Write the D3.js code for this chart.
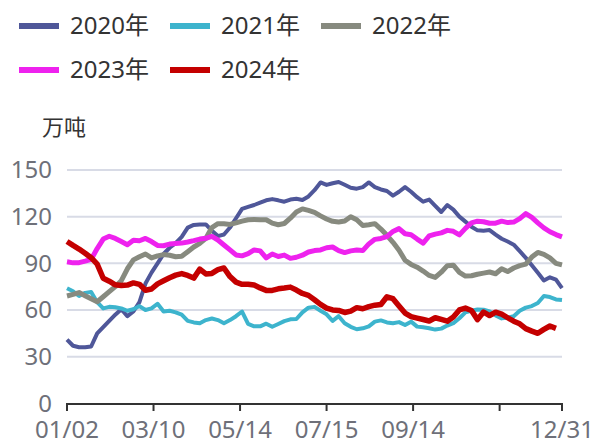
<!DOCTYPE html>
<html><head><meta charset="utf-8">
<script src="https://cdn.jsdelivr.net/npm/d3@7/dist/d3.min.js"></script>
<style>body{margin:0;background:#fff;}svg{display:block;font-family:"Noto Sans","Noto Sans CJK SC",sans-serif;}</style>
</head><body><svg id="c" width="592" height="442"></svg>
<script>
// trading-day index (every 3rd trading day of the year)
const dayIndex = d3.range(0, 247, 3);
const tickIndex = [0, 43, 86, 129, 172, 215, 246];
const tickLabels = ["01/02", "03/10", "05/14", "07/15", "09/14", "", "12/31"];
const yTicks = [0, 30, 60, 90, 120, 150];
const seriesNames = ["2020年", "2021年", "2022年", "2023年", "2024年"];
const seriesColors = ["#4f5799", "#3db4cd", "#878a7f", "#ee22ee", "#c40000"];

const v2020 = [41,37,36,36,36.5,45,49,53,57,60.5,56,59,65,77,84,90,96,100,103,107,113,114.7,115,115,111,107.5,108.5,113,119,125,126.3,127.5,129,130.5,131.3,130.5,129.6,131,131.5,130.7,133,137,142,140.4,141.5,142.3,140.5,138.6,138,139,142,139,137.5,136.5,133.5,136,139,136,132.5,129.6,131,127,123,127.5,124.5,120,116.8,113.5,111.2,110.9,111.4,108.5,105.8,104,102,97.8,93.5,88.8,84,79,81,79.5,74];
const v2021 = [74,72,69,71,71.5,65,61,62,61.8,61,59.5,60.5,62.5,60,61,64,59,59.5,58.5,57,53,52,51.5,53.5,54.5,53.5,51.5,53.5,56,59,51,49.5,49.5,51.2,49.2,51,52.8,54,54.2,58.5,61.5,62,59.5,57.2,53,56,51.5,49.2,47.6,48.2,49.5,52.5,53.3,52,51.5,52.2,50.3,52.5,49.3,48.9,48.3,47.4,48,50,51.5,54.7,58.5,59.5,60.3,60.2,59,56.5,54.6,55,56,59.5,61.5,62.5,64.5,69,68.3,66.8,66.4];
const v2022 = [69,70,71.2,69.2,67.2,65.3,68.5,71.8,75,78.8,86.5,92.2,94.2,96,93.5,94.8,95.6,95.2,94.2,94.5,97.5,100.5,102.8,106,113,115.5,115.4,115,116,117.1,118,118.2,118,118,115.8,114.8,115.6,119,123,125,124,122.8,120.5,118.5,117,116.6,117.2,120,118,114.3,114.8,115.5,112,108,103.5,98.4,92,89.3,87.5,85,82.2,80.9,84.3,88.5,88.8,84.2,81.8,82,83,83.7,84.4,83.3,86.5,84.7,87,88.5,89.5,94,97,95.8,93.5,90,89];
const v2023 = [91,90.3,90.4,91.4,92.5,99.5,105.6,107.4,106,104,102,104.9,104.5,106,104,101.5,101.3,102.4,102.7,103,103.7,104.6,105.6,106.1,107.3,105,101.8,98.6,95.4,94.8,96.2,98.6,98,93.5,96,94.4,95.3,93.2,93.9,95.2,97.3,98.2,98.6,100,100.5,98.2,96.9,98,98.5,98.2,102.5,105.4,106,107.2,110.5,112.3,109,108.4,105.6,103,107.6,108.8,109.6,111.2,110.6,108.3,112.5,116,117.1,116.7,115.8,115.8,117.1,116.2,116.5,118.7,122,119.5,116,112.8,110.3,108.5,107];
const v2024 = [104,101.5,99.2,96.5,93.6,89.5,80.4,78.5,76.2,75.7,76,77.4,76.5,72.7,73.5,76.8,78.8,80.7,82.4,83.4,82.2,80.5,86.3,83.2,83.5,85.9,87,81.5,77.9,76.5,76.5,76,74.2,72.6,72.6,73.6,74.1,74.7,72.8,70.6,69.4,66.6,63.6,61.2,60,59.7,58.4,59.3,61.5,60.8,62.2,63.1,63.5,68.5,67.3,62.6,58,55.7,54.8,53.9,52.9,55,53.9,52.8,55.5,60,61.2,59.7,53.8,58.7,56.4,58.6,57.3,55,52.8,51.1,48,46.4,45,47.5,49.7,48.2];

const seriesValues = [v2020, v2021, v2022, v2023, v2024];
const seriesWidths = [4, 4, 5, 5, 5.5];

const svg = d3.select("#c");
const x = d3.scaleLinear().domain([0, 246]).range([67, 562]);
const y = d3.scaleLinear().domain([0, 150]).range([403.3, 170]);

// grid
svg.append("g").selectAll("line").data(yTicks.filter(d => d > 0)).join("line")
  .attr("x1", 67).attr("x2", 562).attr("y1", d => y(d)).attr("y2", d => y(d))
  .attr("stroke", "#d8dbe6").attr("stroke-width", 2);

// y labels
svg.append("g").selectAll("text").data(yTicks).join("text")
  .attr("x", 52).attr("y", d => y(d)).attr("dy", "0.35em")
  .attr("text-anchor", "end").attr("font-size", 24).attr("fill", "#6e7079")
  .text(d => d);

svg.append("text").attr("x", 42).attr("y", 135).attr("font-size", 22).attr("fill", "#333")
  .text("万吨");

// lines
const line = d3.line().x((d, i) => x(dayIndex[i])).y(d => y(d));
seriesValues.forEach((vals, k) => {
  svg.append("path").datum(vals).attr("d", line)
    .attr("fill", "none").attr("stroke", seriesColors[k]).attr("stroke-width", seriesWidths[k])
    .attr("stroke-linejoin", "round").attr("stroke-linecap", "butt");
});

// x axis
const xa = svg.append("g");
xa.append("line").attr("x1", 66).attr("x2", 563).attr("y1", 404).attr("y2", 404)
  .attr("stroke", "#333").attr("stroke-width", 2);
xa.selectAll("line.t").data(tickIndex).join("line").attr("class", "t")
  .attr("x1", d => x(d)).attr("x2", d => x(d)).attr("y1", 404).attr("y2", 411)
  .attr("stroke", "#333").attr("stroke-width", 2);
xa.selectAll("text").data(tickIndex).join("text")
  .attr("x", d => x(d)).attr("y", 438).attr("text-anchor", "middle")
  .attr("font-size", 24).attr("fill", "#6e7079")
  .text((d, i) => tickLabels[i]);

// legend
const legendPos = [[19, 26], [170, 26], [321, 26], [19, 70], [170, 70]];
seriesNames.forEach((n, k) => {
  const [lx, ly] = legendPos[k];
  svg.append("line").attr("x1", lx).attr("x2", lx + 40).attr("y1", ly).attr("y2", ly)
    .attr("stroke", seriesColors[k]).attr("stroke-width", 6);
  svg.append("text").attr("x", lx + 51).attr("y", ly).attr("dy", "0.35em")
    .attr("font-size", 24).attr("fill", "#333").text(n);
});
</script></body></html>
